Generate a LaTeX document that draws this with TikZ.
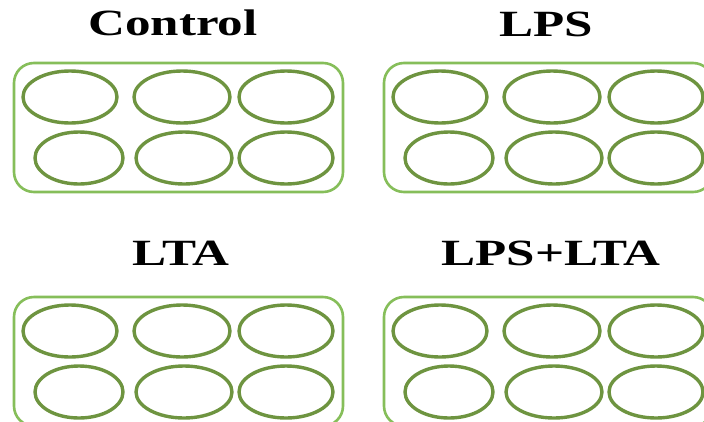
\documentclass[tikz,border=0pt]{standalone}
\usepackage{fontspec}
\setmainfont{Liberation Serif}
\definecolor{platec}{HTML}{86BE5A}
\definecolor{wellc}{HTML}{6E9440}
\tikzset{
  x=1pt, y=-1pt,
  plate/.style={draw=platec, line width=2.6pt, rounded corners=20pt},
  well/.style={draw=wellc, line width=3.4pt},
  ttl/.style={font=\fontsize{37}{40}\selectfont\bfseries, xscale=1.38, anchor=base, inner sep=0pt}
}
\newcommand{\myplate}[3]{%
  \begin{scope}[shift={(#1,#2)}]
    \draw[plate] (14,63) rectangle (343,192);
    \draw[well] (70,97) ellipse [x radius=47, y radius=26];
    \draw[well] (182,97) ellipse [x radius=48, y radius=26];
    \draw[well] (286,97) ellipse [x radius=47, y radius=26];
    \draw[well] (79,158) ellipse [x radius=44, y radius=26];
    \draw[well] (184,158) ellipse [x radius=48, y radius=26];
    \draw[well] (286,158) ellipse [x radius=47, y radius=26];
  \end{scope}}
\begin{document}
\begin{tikzpicture}
\useasboundingbox[fill=white] (0,0) rectangle (704,421);
\clip (0,0) rectangle (704,421);
\myplate{0}{0}{}
\myplate{370}{0}{}
\myplate{0}{234}{}
\myplate{370}{234}{}
\node[ttl] (t1) at (173,35) {Control};
\node[ttl] (t2) at (546,36) {LPS};
\node[ttl] (t3) at (181,265) {LTA};
\node[ttl] (t4) at (551,265) {LPS+LTA};
\end{tikzpicture}
\end{document}
